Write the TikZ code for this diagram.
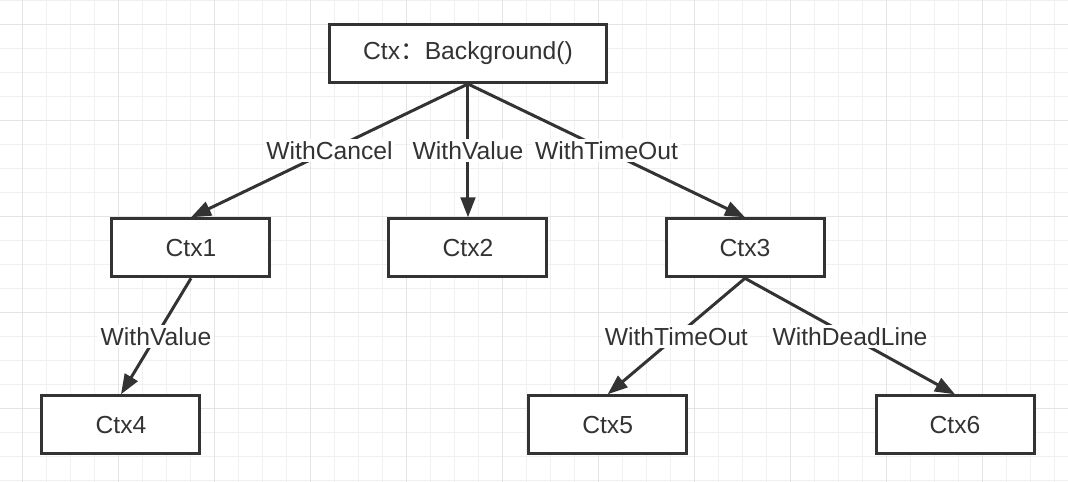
\documentclass[tikz,border=0pt]{standalone}
\usepackage{fontspec}
\setmainfont{Liberation Sans}
\newfontfamily\cjk{Noto Sans CJK SC}
\usetikzlibrary{arrows.meta, positioning, backgrounds}
\definecolor{ink}{HTML}{333333}
\definecolor{gridminor}{HTML}{F0F0F0}
\definecolor{gridmajor}{HTML}{E4E4E4}

\begin{document}
\begin{tikzpicture}[
    node distance=100pt and 87pt,
    ctx/.style={rectangle, draw=ink, line width=2.25pt, fill=white, minimum width=118.5pt, minimum height=43.5pt, text=ink, font=\fontsize{18.5}{21}\selectfont},
    rootctx/.style={ctx, minimum width=207pt},
    arrow/.style={-{Triangle[length=15pt, width=11pt]}, draw=ink, line width=2.25pt},
    lbl/.style={fill=white, inner sep=2pt, text=ink, font=\fontsize{18.5}{21}\selectfont},
    gridline/.style={gridminor, line width=1.1pt},
    gridbold/.style={gridmajor, line width=1.1pt}
]
\useasboundingbox (-351pt,-321.4pt) rectangle (450pt,40.1pt);

% Context tree
\node[rootctx] (root) {Ctx{\cjk ：}Background()};
\node[ctx, below=of root] (ctx2) {Ctx2};
\node[ctx, left=of ctx2] (ctx1) {Ctx1};
\node[ctx, right=of ctx2] (ctx3) {Ctx3};
\node[ctx, below=87pt of ctx1, xshift=-52.5pt] (ctx4) {Ctx4};
\node[ctx, below=87pt of ctx3, xshift=-103pt] (ctx5) {Ctx5};
\node[ctx, below=87pt of ctx3, xshift=157.5pt] (ctx6) {Ctx6};

% Derivations
\draw[arrow] (root.south) -- node[lbl] {WithCancel} (ctx1.north);
\draw[arrow] (root.south) -- node[lbl] {WithValue} (ctx2.north);
\draw[arrow] (root.south) -- node[lbl] {WithTimeOut} (ctx3.north);
\draw[arrow] (ctx1.south) -- node[lbl] {WithValue} (ctx4.north);
\draw[arrow] (ctx3.south) -- node[lbl] {WithTimeOut} (ctx5.north);
\draw[arrow] (ctx3.south) -- node[lbl] {WithDeadLine} (ctx6.north);

% Grid paper
\begin{scope}[on background layer]
\fill[white] (-351pt,-321.4pt) rectangle (450pt,40.1pt);
\clip (-351pt,-321.4pt) rectangle (450pt,40.1pt);
\foreach \i in {0,...,43}
    \draw[gridline] ({-334pt+18pt*\i},41pt) -- ({-334pt+18pt*\i},-322pt);
\foreach \i in {0,...,20}
    \draw[gridline] (-352pt,{39.9pt-18pt*\i}) -- (451pt,{39.9pt-18pt*\i});
\foreach \i in {0,...,10}
    \draw[gridbold] ({-334pt+72pt*\i},41pt) -- ({-334pt+72pt*\i},-322pt);
\foreach \i in {0,...,4}
    \draw[gridbold] (-352pt,{21.9pt-72pt*\i}) -- (451pt,{21.9pt-72pt*\i});
\end{scope}
\end{tikzpicture}
\end{document}
